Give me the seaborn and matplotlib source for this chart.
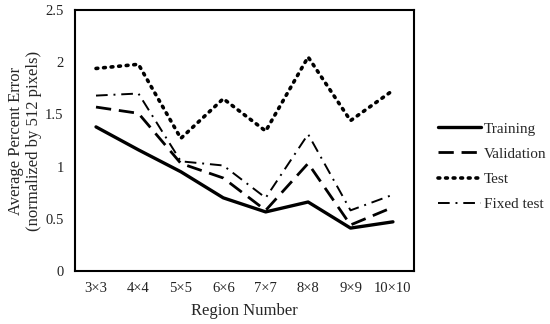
import matplotlib
matplotlib.use("Agg")
import matplotlib.pyplot as plt
import seaborn as sns
import pandas as pd

categories = ["3×3", "4×4", "5×5", "6×6", "7×7", "8×8", "9×9", "10×10"]
training = [1.38, 1.16, 0.95, 0.70, 0.565, 0.66, 0.41, 0.47]
validation = [1.57, 1.51, 1.03, 0.89, 0.58, 1.03, 0.44, 0.61]
test = [1.94, 1.98, 1.27, 1.65, 1.34, 2.05, 1.44, 1.73]
fixed_test = [1.68, 1.70, 1.05, 1.01, 0.70, 1.31, 0.58, 0.73]
series_names = ["Training", "Validation", "Test", "Fixed test"]

df = pd.DataFrame({"Region": categories * 4,
                   "Error": training + validation + test + fixed_test,
                   "Series": sum([[n] * len(categories) for n in series_names], [])})

sns.set_style("white")
plt.rcParams['font.family'] = ['Liberation Serif', 'DejaVu Serif']

fig = plt.figure(figsize=(5.5, 3.24), dpi=100)
ax = fig.add_axes([0.136, 0.164, 0.617, 0.805])

styles = {"Training": dict(ls="-", lw=2.4),
          "Validation": dict(ls=(0, (5.5, 2.8)), lw=2.0),
          "Test": dict(ls=(0, (0.5, 1.6)), lw=2.6),
          "Fixed test": dict(ls=(0, (6, 3, 1, 3)), lw=1.4)}

for name in series_names:
    sub = df[df["Series"] == name]
    sns.lineplot(data=sub, x="Region", y="Error", ax=ax, color="black",
                 label=name, sort=False, **styles[name])
for line in ax.get_lines():
    if line.get_label() == "Test":
        line.set_dash_capstyle("round")

ax.set_xlim(-0.5, len(categories) - 0.5)
ax.set_ylim(0, 2.5)
ax.set_yticks([0, 0.5, 1, 1.5, 2, 2.5])
ax.set_yticklabels(["0", "0.5", "1", "1.5", "2", "2.5"])
ax.tick_params(axis="both", length=0, labelsize=10.5, pad=8, colors="#222222")
ax.set_xlabel("Region Number", fontsize=12, labelpad=6)
ax.set_ylabel("Average Percent Error\n(normalized by 512 pixels)", fontsize=12, labelpad=2)
for s in ax.spines.values():
    s.set_color("black")
    s.set_linewidth(1.5)

leg = ax.legend(loc="center left", bbox_to_anchor=(1.03, 0.40), frameon=False,
                fontsize=11, handlelength=2.8, handletextpad=0.2, labelspacing=0.75)
for h in leg.get_lines():
    h.set_color("black")
    if h.get_label() == "Test":
        h.set_dash_capstyle("round")

fig.savefig("out.png", dpi=100)
